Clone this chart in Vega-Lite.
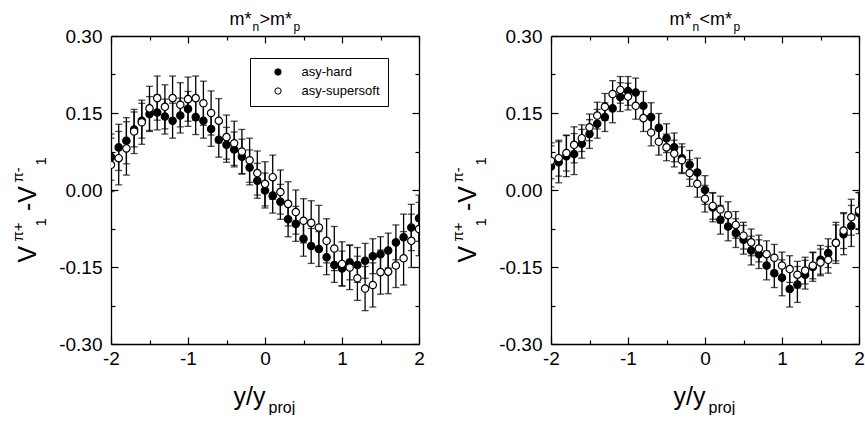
{
  "$schema": "https://vega.github.io/schema/vega-lite/v6.json",
  "background": "white",
  "padding": {"left": 10, "top": 10, "right": 0, "bottom": 0},
  "bounds": "flush",
  "spacing": 132,
  "resolve": {"scale": {"fill": "independent"}, "legend": {"fill": "independent"}},
  "datasets": {
    "left": [
      {"s":"asy-hard","x":-2.0,"y":0.064,"lo":0.019,"hi":0.109},
      {"s":"asy-hard","x":-1.9,"y":0.083,"lo":0.038,"hi":0.128},
      {"s":"asy-hard","x":-1.8,"y":0.096,"lo":0.051,"hi":0.141},
      {"s":"asy-hard","x":-1.7,"y":0.118,"lo":0.084,"hi":0.152},
      {"s":"asy-hard","x":-1.6,"y":0.135,"lo":0.101,"hi":0.169},
      {"s":"asy-hard","x":-1.5,"y":0.148,"lo":0.114,"hi":0.182},
      {"s":"asy-hard","x":-1.4,"y":0.151,"lo":0.117,"hi":0.185},
      {"s":"asy-hard","x":-1.3,"y":0.143,"lo":0.109,"hi":0.177},
      {"s":"asy-hard","x":-1.2,"y":0.135,"lo":0.101,"hi":0.169},
      {"s":"asy-hard","x":-1.1,"y":0.145,"lo":0.111,"hi":0.179},
      {"s":"asy-hard","x":-1.0,"y":0.158,"lo":0.124,"hi":0.192},
      {"s":"asy-hard","x":-0.9,"y":0.142,"lo":0.108,"hi":0.176},
      {"s":"asy-hard","x":-0.8,"y":0.135,"lo":0.101,"hi":0.169},
      {"s":"asy-hard","x":-0.7,"y":0.119,"lo":0.085,"hi":0.153},
      {"s":"asy-hard","x":-0.6,"y":0.098,"lo":0.064,"hi":0.132},
      {"s":"asy-hard","x":-0.5,"y":0.088,"lo":0.054,"hi":0.122},
      {"s":"asy-hard","x":-0.4,"y":0.079,"lo":0.045,"hi":0.113},
      {"s":"asy-hard","x":-0.3,"y":0.065,"lo":0.031,"hi":0.099},
      {"s":"asy-hard","x":-0.2,"y":0.044,"lo":0.010,"hi":0.078},
      {"s":"asy-hard","x":-0.1,"y":0.018,"lo":-0.016,"hi":0.052},
      {"s":"asy-hard","x":0.0,"y":-0.001,"lo":-0.035,"hi":0.033},
      {"s":"asy-hard","x":0.1,"y":-0.011,"lo":-0.045,"hi":0.023},
      {"s":"asy-hard","x":0.2,"y":-0.023,"lo":-0.057,"hi":0.011},
      {"s":"asy-hard","x":0.3,"y":-0.057,"lo":-0.091,"hi":-0.023},
      {"s":"asy-hard","x":0.4,"y":-0.066,"lo":-0.100,"hi":-0.032},
      {"s":"asy-hard","x":0.5,"y":-0.095,"lo":-0.129,"hi":-0.061},
      {"s":"asy-hard","x":0.6,"y":-0.109,"lo":-0.143,"hi":-0.075},
      {"s":"asy-hard","x":0.7,"y":-0.115,"lo":-0.149,"hi":-0.081},
      {"s":"asy-hard","x":0.8,"y":-0.131,"lo":-0.165,"hi":-0.097},
      {"s":"asy-hard","x":0.9,"y":-0.146,"lo":-0.180,"hi":-0.112},
      {"s":"asy-hard","x":1.0,"y":-0.153,"lo":-0.187,"hi":-0.119},
      {"s":"asy-hard","x":1.1,"y":-0.141,"lo":-0.175,"hi":-0.107},
      {"s":"asy-hard","x":1.2,"y":-0.146,"lo":-0.180,"hi":-0.112},
      {"s":"asy-hard","x":1.3,"y":-0.138,"lo":-0.172,"hi":-0.104},
      {"s":"asy-hard","x":1.4,"y":-0.129,"lo":-0.163,"hi":-0.095},
      {"s":"asy-hard","x":1.5,"y":-0.125,"lo":-0.159,"hi":-0.091},
      {"s":"asy-hard","x":1.6,"y":-0.118,"lo":-0.152,"hi":-0.084},
      {"s":"asy-hard","x":1.7,"y":-0.102,"lo":-0.136,"hi":-0.068},
      {"s":"asy-hard","x":1.8,"y":-0.092,"lo":-0.137,"hi":-0.047},
      {"s":"asy-hard","x":1.9,"y":-0.073,"lo":-0.118,"hi":-0.028},
      {"s":"asy-hard","x":2.0,"y":-0.055,"lo":-0.100,"hi":-0.010},
      {"s":"asy-supersoft","x":-2.0,"y":0.049,"lo":-0.003,"hi":0.101},
      {"s":"asy-supersoft","x":-1.9,"y":0.062,"lo":0.010,"hi":0.114},
      {"s":"asy-supersoft","x":-1.8,"y":0.081,"lo":0.029,"hi":0.133},
      {"s":"asy-supersoft","x":-1.7,"y":0.114,"lo":0.071,"hi":0.157},
      {"s":"asy-supersoft","x":-1.6,"y":0.132,"lo":0.089,"hi":0.175},
      {"s":"asy-supersoft","x":-1.5,"y":0.159,"lo":0.116,"hi":0.202},
      {"s":"asy-supersoft","x":-1.4,"y":0.179,"lo":0.136,"hi":0.222},
      {"s":"asy-supersoft","x":-1.3,"y":0.162,"lo":0.119,"hi":0.205},
      {"s":"asy-supersoft","x":-1.2,"y":0.179,"lo":0.136,"hi":0.222},
      {"s":"asy-supersoft","x":-1.1,"y":0.166,"lo":0.123,"hi":0.209},
      {"s":"asy-supersoft","x":-1.0,"y":0.177,"lo":0.134,"hi":0.220},
      {"s":"asy-supersoft","x":-0.9,"y":0.179,"lo":0.136,"hi":0.222},
      {"s":"asy-supersoft","x":-0.8,"y":0.169,"lo":0.126,"hi":0.212},
      {"s":"asy-supersoft","x":-0.7,"y":0.150,"lo":0.107,"hi":0.193},
      {"s":"asy-supersoft","x":-0.6,"y":0.135,"lo":0.092,"hi":0.178},
      {"s":"asy-supersoft","x":-0.5,"y":0.103,"lo":0.060,"hi":0.146},
      {"s":"asy-supersoft","x":-0.4,"y":0.091,"lo":0.048,"hi":0.134},
      {"s":"asy-supersoft","x":-0.3,"y":0.075,"lo":0.032,"hi":0.118},
      {"s":"asy-supersoft","x":-0.2,"y":0.058,"lo":0.015,"hi":0.101},
      {"s":"asy-supersoft","x":-0.1,"y":0.033,"lo":-0.010,"hi":0.076},
      {"s":"asy-supersoft","x":0.0,"y":0.012,"lo":-0.031,"hi":0.055},
      {"s":"asy-supersoft","x":0.1,"y":0.025,"lo":-0.018,"hi":0.068},
      {"s":"asy-supersoft","x":0.2,"y":-0.004,"lo":-0.047,"hi":0.039},
      {"s":"asy-supersoft","x":0.3,"y":-0.027,"lo":-0.070,"hi":0.016},
      {"s":"asy-supersoft","x":0.4,"y":-0.043,"lo":-0.086,"hi":0.000},
      {"s":"asy-supersoft","x":0.5,"y":-0.060,"lo":-0.103,"hi":-0.017},
      {"s":"asy-supersoft","x":0.6,"y":-0.064,"lo":-0.107,"hi":-0.021},
      {"s":"asy-supersoft","x":0.7,"y":-0.073,"lo":-0.116,"hi":-0.030},
      {"s":"asy-supersoft","x":0.8,"y":-0.099,"lo":-0.142,"hi":-0.056},
      {"s":"asy-supersoft","x":0.9,"y":-0.114,"lo":-0.157,"hi":-0.071},
      {"s":"asy-supersoft","x":1.0,"y":-0.144,"lo":-0.187,"hi":-0.101},
      {"s":"asy-supersoft","x":1.1,"y":-0.151,"lo":-0.194,"hi":-0.108},
      {"s":"asy-supersoft","x":1.2,"y":-0.172,"lo":-0.215,"hi":-0.129},
      {"s":"asy-supersoft","x":1.3,"y":-0.192,"lo":-0.235,"hi":-0.149},
      {"s":"asy-supersoft","x":1.4,"y":-0.185,"lo":-0.228,"hi":-0.142},
      {"s":"asy-supersoft","x":1.5,"y":-0.160,"lo":-0.203,"hi":-0.117},
      {"s":"asy-supersoft","x":1.6,"y":-0.159,"lo":-0.202,"hi":-0.116},
      {"s":"asy-supersoft","x":1.7,"y":-0.147,"lo":-0.190,"hi":-0.104},
      {"s":"asy-supersoft","x":1.8,"y":-0.133,"lo":-0.185,"hi":-0.081},
      {"s":"asy-supersoft","x":1.9,"y":-0.099,"lo":-0.151,"hi":-0.047},
      {"s":"asy-supersoft","x":2.0,"y":-0.076,"lo":-0.128,"hi":-0.024}
    ],
    "right": [
      {"s":"asy-hard","x":-2.0,"y":0.046,"lo":0.006,"hi":0.086},
      {"s":"asy-hard","x":-1.9,"y":0.054,"lo":0.014,"hi":0.094},
      {"s":"asy-hard","x":-1.8,"y":0.066,"lo":0.026,"hi":0.106},
      {"s":"asy-hard","x":-1.7,"y":0.070,"lo":0.030,"hi":0.110},
      {"s":"asy-hard","x":-1.6,"y":0.090,"lo":0.062,"hi":0.118},
      {"s":"asy-hard","x":-1.5,"y":0.109,"lo":0.081,"hi":0.137},
      {"s":"asy-hard","x":-1.4,"y":0.129,"lo":0.101,"hi":0.157},
      {"s":"asy-hard","x":-1.3,"y":0.142,"lo":0.114,"hi":0.170},
      {"s":"asy-hard","x":-1.2,"y":0.159,"lo":0.131,"hi":0.187},
      {"s":"asy-hard","x":-1.1,"y":0.181,"lo":0.153,"hi":0.209},
      {"s":"asy-hard","x":-1.0,"y":0.193,"lo":0.165,"hi":0.221},
      {"s":"asy-hard","x":-0.9,"y":0.190,"lo":0.162,"hi":0.218},
      {"s":"asy-hard","x":-0.8,"y":0.164,"lo":0.136,"hi":0.192},
      {"s":"asy-hard","x":-0.7,"y":0.142,"lo":0.114,"hi":0.170},
      {"s":"asy-hard","x":-0.6,"y":0.121,"lo":0.093,"hi":0.149},
      {"s":"asy-hard","x":-0.5,"y":0.101,"lo":0.073,"hi":0.129},
      {"s":"asy-hard","x":-0.4,"y":0.083,"lo":0.055,"hi":0.111},
      {"s":"asy-hard","x":-0.3,"y":0.062,"lo":0.034,"hi":0.090},
      {"s":"asy-hard","x":-0.2,"y":0.049,"lo":0.021,"hi":0.077},
      {"s":"asy-hard","x":-0.1,"y":0.034,"lo":0.006,"hi":0.062},
      {"s":"asy-hard","x":0.0,"y":0.000,"lo":-0.028,"hi":0.028},
      {"s":"asy-hard","x":0.1,"y":-0.034,"lo":-0.062,"hi":-0.006},
      {"s":"asy-hard","x":0.2,"y":-0.058,"lo":-0.086,"hi":-0.030},
      {"s":"asy-hard","x":0.3,"y":-0.071,"lo":-0.099,"hi":-0.043},
      {"s":"asy-hard","x":0.4,"y":-0.084,"lo":-0.112,"hi":-0.056},
      {"s":"asy-hard","x":0.5,"y":-0.097,"lo":-0.125,"hi":-0.069},
      {"s":"asy-hard","x":0.6,"y":-0.118,"lo":-0.146,"hi":-0.090},
      {"s":"asy-hard","x":0.7,"y":-0.125,"lo":-0.153,"hi":-0.097},
      {"s":"asy-hard","x":0.8,"y":-0.147,"lo":-0.175,"hi":-0.119},
      {"s":"asy-hard","x":0.9,"y":-0.162,"lo":-0.190,"hi":-0.134},
      {"s":"asy-hard","x":1.0,"y":-0.171,"lo":-0.206,"hi":-0.136},
      {"s":"asy-hard","x":1.1,"y":-0.193,"lo":-0.228,"hi":-0.158},
      {"s":"asy-hard","x":1.2,"y":-0.184,"lo":-0.219,"hi":-0.149},
      {"s":"asy-hard","x":1.3,"y":-0.165,"lo":-0.193,"hi":-0.137},
      {"s":"asy-hard","x":1.4,"y":-0.150,"lo":-0.178,"hi":-0.122},
      {"s":"asy-hard","x":1.5,"y":-0.136,"lo":-0.164,"hi":-0.108},
      {"s":"asy-hard","x":1.6,"y":-0.123,"lo":-0.151,"hi":-0.095},
      {"s":"asy-hard","x":1.7,"y":-0.103,"lo":-0.143,"hi":-0.063},
      {"s":"asy-hard","x":1.8,"y":-0.086,"lo":-0.126,"hi":-0.046},
      {"s":"asy-hard","x":1.9,"y":-0.070,"lo":-0.110,"hi":-0.030},
      {"s":"asy-hard","x":2.0,"y":-0.045,"lo":-0.085,"hi":-0.005},
      {"s":"asy-supersoft","x":-2.0,"y":0.057,"lo":0.022,"hi":0.092},
      {"s":"asy-supersoft","x":-1.9,"y":0.062,"lo":0.027,"hi":0.097},
      {"s":"asy-supersoft","x":-1.8,"y":0.072,"lo":0.037,"hi":0.107},
      {"s":"asy-supersoft","x":-1.7,"y":0.088,"lo":0.053,"hi":0.123},
      {"s":"asy-supersoft","x":-1.6,"y":0.101,"lo":0.075,"hi":0.127},
      {"s":"asy-supersoft","x":-1.5,"y":0.122,"lo":0.096,"hi":0.148},
      {"s":"asy-supersoft","x":-1.4,"y":0.145,"lo":0.119,"hi":0.171},
      {"s":"asy-supersoft","x":-1.3,"y":0.162,"lo":0.136,"hi":0.188},
      {"s":"asy-supersoft","x":-1.2,"y":0.187,"lo":0.161,"hi":0.213},
      {"s":"asy-supersoft","x":-1.1,"y":0.195,"lo":0.169,"hi":0.221},
      {"s":"asy-supersoft","x":-1.0,"y":0.182,"lo":0.156,"hi":0.208},
      {"s":"asy-supersoft","x":-0.9,"y":0.164,"lo":0.138,"hi":0.190},
      {"s":"asy-supersoft","x":-0.8,"y":0.140,"lo":0.114,"hi":0.166},
      {"s":"asy-supersoft","x":-0.7,"y":0.112,"lo":0.086,"hi":0.138},
      {"s":"asy-supersoft","x":-0.6,"y":0.094,"lo":0.068,"hi":0.120},
      {"s":"asy-supersoft","x":-0.5,"y":0.083,"lo":0.057,"hi":0.109},
      {"s":"asy-supersoft","x":-0.4,"y":0.071,"lo":0.045,"hi":0.097},
      {"s":"asy-supersoft","x":-0.3,"y":0.058,"lo":0.032,"hi":0.084},
      {"s":"asy-supersoft","x":-0.2,"y":0.033,"lo":0.007,"hi":0.059},
      {"s":"asy-supersoft","x":-0.1,"y":0.012,"lo":-0.014,"hi":0.038},
      {"s":"asy-supersoft","x":0.0,"y":-0.017,"lo":-0.043,"hi":0.009},
      {"s":"asy-supersoft","x":0.1,"y":-0.031,"lo":-0.057,"hi":-0.005},
      {"s":"asy-supersoft","x":0.2,"y":-0.038,"lo":-0.064,"hi":-0.012},
      {"s":"asy-supersoft","x":0.3,"y":-0.049,"lo":-0.075,"hi":-0.023},
      {"s":"asy-supersoft","x":0.4,"y":-0.068,"lo":-0.094,"hi":-0.042},
      {"s":"asy-supersoft","x":0.5,"y":-0.089,"lo":-0.115,"hi":-0.063},
      {"s":"asy-supersoft","x":0.6,"y":-0.102,"lo":-0.128,"hi":-0.076},
      {"s":"asy-supersoft","x":0.7,"y":-0.114,"lo":-0.140,"hi":-0.088},
      {"s":"asy-supersoft","x":0.8,"y":-0.125,"lo":-0.151,"hi":-0.099},
      {"s":"asy-supersoft","x":0.9,"y":-0.132,"lo":-0.158,"hi":-0.106},
      {"s":"asy-supersoft","x":1.0,"y":-0.147,"lo":-0.173,"hi":-0.121},
      {"s":"asy-supersoft","x":1.1,"y":-0.154,"lo":-0.180,"hi":-0.128},
      {"s":"asy-supersoft","x":1.2,"y":-0.165,"lo":-0.191,"hi":-0.139},
      {"s":"asy-supersoft","x":1.3,"y":-0.157,"lo":-0.183,"hi":-0.131},
      {"s":"asy-supersoft","x":1.4,"y":-0.147,"lo":-0.173,"hi":-0.121},
      {"s":"asy-supersoft","x":1.5,"y":-0.141,"lo":-0.167,"hi":-0.115},
      {"s":"asy-supersoft","x":1.6,"y":-0.136,"lo":-0.162,"hi":-0.110},
      {"s":"asy-supersoft","x":1.7,"y":-0.103,"lo":-0.138,"hi":-0.068},
      {"s":"asy-supersoft","x":1.8,"y":-0.079,"lo":-0.114,"hi":-0.044},
      {"s":"asy-supersoft","x":1.9,"y":-0.053,"lo":-0.088,"hi":-0.018},
      {"s":"asy-supersoft","x":2.0,"y":-0.040,"lo":-0.075,"hi":-0.005}
    ]
  },
  "hconcat": [
    {
      "width": 308, "height": 308,
      "data": {"name": "left"},
      "resolve": {"axis": {"x": "independent", "y": "independent"}},
      "layer": [
        {
          "transform": [{"filter": "datum.s === 'asy-hard'"}],
          "mark": {"type": "rule", "color": "black", "strokeWidth": 1.3, "clip": true},
          "encoding": {
            "x": {"field": "x", "type": "quantitative", "scale": {"domain": [-2, 2], "nice": false, "zero": false},
              "axis": {"orient": "bottom", "values": [-2, -1, 0, 1, 2], "tickSize": -7, "labelPadding": 12, "labelFlush": false,
                "labelExpr": "datum.value < 0 ? '-' + format(-datum.value, 'd') : format(datum.value, 'd')",
                "title": "y/y", "titleX": 122, "titleY": 60, "titleAlign": "left", "titleBaseline": "alphabetic", "titleAngle": 0, "titleFontSize": 25}},
            "y": {"field": "lo", "type": "quantitative", "scale": {"domain": [-0.3, 0.3], "nice": false, "zero": false},
              "axis": {"orient": "left", "values": [-0.3, -0.15, 0, 0.15, 0.3], "tickSize": -7, "labelPadding": 16, "labelFlush": false,
                "labelExpr": "datum.value < 0 ? '-' + format(-datum.value, '.2f') : format(datum.value, '.2f')",
                "title": "V\u00a0\u00a0\u00a0\u00a0\u00a0-V", "titleX": -76, "titleY": 226, "titleAlign": "left", "titleBaseline": "alphabetic", "titleAngle": -90, "titleFontSize": 25}},
            "y2": {"field": "hi"}
          }
        },
        {
          "transform": [{"filter": "datum.s === 'asy-supersoft'"}],
          "mark": {"type": "rule", "color": "black", "strokeWidth": 1.3, "clip": true},
          "encoding": {
            "x": {"field": "x", "type": "quantitative",
              "axis": {"orient": "top", "ticks": false, "labels": false, "domain": false,
                "title": "m*", "titleX": 118, "titleY": -12, "titleAlign": "left", "titleBaseline": "alphabetic", "titleAngle": 0, "titleFontSize": 18}},
            "y": {"field": "lo", "type": "quantitative",
              "axis": {"orient": "left", "ticks": false, "labels": false, "domain": false,
                "title": "1", "titleX": -66, "titleY": 129, "titleAlign": "left", "titleBaseline": "alphabetic", "titleAngle": -90, "titleFontSize": 15}},
            "y2": {"field": "hi"}
          }
        },
        {
          "mark": {"type": "tick", "orient": "horizontal", "color": "black", "size": 7, "thickness": 1.3, "clip": true},
          "encoding": {
            "x": {"field": "x", "type": "quantitative",
              "axis": {"orient": "bottom", "values": [-1.5, -0.5, 0.5, 1.5], "tickSize": -4, "labels": false, "domain": false,
                "title": "proj", "titleX": 157, "titleY": 68, "titleAlign": "left", "titleBaseline": "alphabetic", "titleAngle": 0, "titleFontSize": 16}},
            "y": {"field": "lo", "type": "quantitative",
              "axis": {"orient": "left", "values": [-0.225, -0.075, 0.075, 0.225], "tickSize": -4, "labels": false, "domain": false,
                "title": "π+", "titleX": -89, "titleY": 205, "titleAlign": "left", "titleBaseline": "alphabetic", "titleAngle": -90, "titleFontSize": 15}}
          }
        },
        {
          "mark": {"type": "tick", "orient": "horizontal", "color": "black", "size": 7, "thickness": 1.3, "clip": true},
          "encoding": {
            "x": {"field": "x", "type": "quantitative",
              "axis": {"orient": "top", "values": [-2, -1, 0, 1, 2], "tickSize": -7, "labels": false,
                "title": ">m*", "titleX": 148, "titleY": -12, "titleAlign": "left", "titleBaseline": "alphabetic", "titleAngle": 0, "titleFontSize": 18}},
            "y": {"field": "hi", "type": "quantitative",
              "axis": {"orient": "right", "values": [-0.3, -0.15, 0, 0.15, 0.3], "tickSize": -7, "labels": false,
                "title": "1", "titleX": -374, "titleY": 190, "titleAlign": "left", "titleBaseline": "alphabetic", "titleAngle": -90, "titleFontSize": 15}}
          }
        },
        {
          "transform": [{"filter": "datum.s === 'asy-hard'"}],
          "mark": {"type": "point", "shape": "circle", "filled": true, "size": 54, "stroke": "black", "strokeWidth": 1.2, "opacity": 1, "clip": true},
          "encoding": {
            "x": {"field": "x", "type": "quantitative",
              "axis": {"orient": "top", "values": [-1.5, -0.5, 0.5, 1.5], "tickSize": -4, "labels": false, "domain": false,
                "title": "n", "titleX": 141, "titleY": -6, "titleAlign": "left", "titleBaseline": "alphabetic", "titleAngle": 0, "titleFontSize": 12}},
            "y": {"field": "y", "type": "quantitative",
              "axis": {"orient": "right", "values": [-0.225, -0.075, 0.075, 0.225], "tickSize": -4, "labels": false, "domain": false,
                "title": "π-", "titleX": -397, "titleY": 146, "titleAlign": "left", "titleBaseline": "alphabetic", "titleAngle": -90, "titleFontSize": 15}},
            "fill": {"field": "s", "type": "nominal", "scale": {"domain": ["asy-hard", "asy-supersoft"], "range": ["black", "white"]},
              "legend": {"title": null, "orient": "none", "legendX": 139, "legendY": 22, "strokeColor": "black", "fillColor": "white",
                "padding": 7.5, "rowPadding": 5, "symbolType": "circle", "symbolSize": 40, "symbolStrokeColor": "black", "symbolStrokeWidth": 1,
                "symbolOffset": 14, "labelOffset": 17, "labelFontSize": 13, "labelFont": "Liberation Sans", "labelColor": "black"}}
          }
        },
        {
          "transform": [{"filter": "datum.s === 'asy-supersoft'"}],
          "mark": {"type": "point", "shape": "circle", "filled": true, "size": 54, "stroke": "black", "strokeWidth": 1.2, "opacity": 1, "clip": true},
          "encoding": {
            "x": {"field": "x", "type": "quantitative",
              "axis": {"orient": "top", "ticks": false, "labels": false, "domain": false,
                "title": "p", "titleX": 182, "titleY": -6, "titleAlign": "left", "titleBaseline": "alphabetic", "titleAngle": 0, "titleFontSize": 12}},
            "y": {"field": "y", "type": "quantitative", "axis": null},
            "fill": {"field": "s", "type": "nominal", "scale": {"domain": ["asy-hard", "asy-supersoft"], "range": ["black", "white"]},
              "legend": {"title": null, "orient": "none", "legendX": 139, "legendY": 22, "strokeColor": "black", "fillColor": "white",
                "padding": 7.5, "rowPadding": 5, "symbolType": "circle", "symbolSize": 40, "symbolStrokeColor": "black", "symbolStrokeWidth": 1,
                "symbolOffset": 14, "labelOffset": 17, "labelFontSize": 13, "labelFont": "Liberation Sans", "labelColor": "black"}}
          }
        }
      ]
    },
    {
      "width": 308, "height": 308,
      "data": {"name": "right"},
      "resolve": {"axis": {"x": "independent", "y": "independent"}},
      "layer": [
        {
          "transform": [{"filter": "datum.s === 'asy-hard'"}],
          "mark": {"type": "rule", "color": "black", "strokeWidth": 1.3, "clip": true},
          "encoding": {
            "x": {"field": "x", "type": "quantitative", "scale": {"domain": [-2, 2], "nice": false, "zero": false},
              "axis": {"orient": "bottom", "values": [-2, -1, 0, 1, 2], "tickSize": -7, "labelPadding": 12, "labelFlush": false,
                "labelExpr": "datum.value < 0 ? '-' + format(-datum.value, 'd') : format(datum.value, 'd')",
                "title": "y/y", "titleX": 122, "titleY": 60, "titleAlign": "left", "titleBaseline": "alphabetic", "titleAngle": 0, "titleFontSize": 25}},
            "y": {"field": "lo", "type": "quantitative", "scale": {"domain": [-0.3, 0.3], "nice": false, "zero": false},
              "axis": {"orient": "left", "values": [-0.3, -0.15, 0, 0.15, 0.3], "tickSize": -7, "labelPadding": 16, "labelFlush": false,
                "labelExpr": "datum.value < 0 ? '-' + format(-datum.value, '.2f') : format(datum.value, '.2f')",
                "title": "V\u00a0\u00a0\u00a0\u00a0\u00a0-V", "titleX": -76, "titleY": 226, "titleAlign": "left", "titleBaseline": "alphabetic", "titleAngle": -90, "titleFontSize": 25}},
            "y2": {"field": "hi"}
          }
        },
        {
          "transform": [{"filter": "datum.s === 'asy-supersoft'"}],
          "mark": {"type": "rule", "color": "black", "strokeWidth": 1.3, "clip": true},
          "encoding": {
            "x": {"field": "x", "type": "quantitative",
              "axis": {"orient": "top", "ticks": false, "labels": false, "domain": false,
                "title": "m*", "titleX": 118, "titleY": -12, "titleAlign": "left", "titleBaseline": "alphabetic", "titleAngle": 0, "titleFontSize": 18}},
            "y": {"field": "lo", "type": "quantitative",
              "axis": {"orient": "left", "ticks": false, "labels": false, "domain": false,
                "title": "1", "titleX": -66, "titleY": 129, "titleAlign": "left", "titleBaseline": "alphabetic", "titleAngle": -90, "titleFontSize": 15}},
            "y2": {"field": "hi"}
          }
        },
        {
          "mark": {"type": "tick", "orient": "horizontal", "color": "black", "size": 7, "thickness": 1.3, "clip": true},
          "encoding": {
            "x": {"field": "x", "type": "quantitative",
              "axis": {"orient": "bottom", "values": [-1.5, -0.5, 0.5, 1.5], "tickSize": -4, "labels": false, "domain": false,
                "title": "proj", "titleX": 157, "titleY": 68, "titleAlign": "left", "titleBaseline": "alphabetic", "titleAngle": 0, "titleFontSize": 16}},
            "y": {"field": "lo", "type": "quantitative",
              "axis": {"orient": "left", "values": [-0.225, -0.075, 0.075, 0.225], "tickSize": -4, "labels": false, "domain": false,
                "title": "π+", "titleX": -89, "titleY": 205, "titleAlign": "left", "titleBaseline": "alphabetic", "titleAngle": -90, "titleFontSize": 15}}
          }
        },
        {
          "mark": {"type": "tick", "orient": "horizontal", "color": "black", "size": 7, "thickness": 1.3, "clip": true},
          "encoding": {
            "x": {"field": "x", "type": "quantitative",
              "axis": {"orient": "top", "values": [-2, -1, 0, 1, 2], "tickSize": -7, "labels": false,
                "title": "<m*", "titleX": 148, "titleY": -12, "titleAlign": "left", "titleBaseline": "alphabetic", "titleAngle": 0, "titleFontSize": 18}},
            "y": {"field": "hi", "type": "quantitative",
              "axis": {"orient": "right", "values": [-0.3, -0.15, 0, 0.15, 0.3], "tickSize": -7, "labels": false,
                "title": "1", "titleX": -374, "titleY": 190, "titleAlign": "left", "titleBaseline": "alphabetic", "titleAngle": -90, "titleFontSize": 15}}
          }
        },
        {
          "transform": [{"filter": "datum.s === 'asy-hard'"}],
          "mark": {"type": "point", "shape": "circle", "filled": true, "size": 54, "stroke": "black", "strokeWidth": 1.2, "opacity": 1, "clip": true},
          "encoding": {
            "x": {"field": "x", "type": "quantitative",
              "axis": {"orient": "top", "values": [-1.5, -0.5, 0.5, 1.5], "tickSize": -4, "labels": false, "domain": false,
                "title": "n", "titleX": 141, "titleY": -6, "titleAlign": "left", "titleBaseline": "alphabetic", "titleAngle": 0, "titleFontSize": 12}},
            "y": {"field": "y", "type": "quantitative",
              "axis": {"orient": "right", "values": [-0.225, -0.075, 0.075, 0.225], "tickSize": -4, "labels": false, "domain": false,
                "title": "π-", "titleX": -397, "titleY": 146, "titleAlign": "left", "titleBaseline": "alphabetic", "titleAngle": -90, "titleFontSize": 15}},
            "fill": {"field": "s", "type": "nominal", "scale": {"domain": ["asy-hard", "asy-supersoft"], "range": ["black", "white"]}, "legend": null}
          }
        },
        {
          "transform": [{"filter": "datum.s === 'asy-supersoft'"}],
          "mark": {"type": "point", "shape": "circle", "filled": true, "size": 54, "stroke": "black", "strokeWidth": 1.2, "opacity": 1, "clip": true},
          "encoding": {
            "x": {"field": "x", "type": "quantitative",
              "axis": {"orient": "top", "ticks": false, "labels": false, "domain": false,
                "title": "p", "titleX": 182, "titleY": -6, "titleAlign": "left", "titleBaseline": "alphabetic", "titleAngle": 0, "titleFontSize": 12}},
            "y": {"field": "y", "type": "quantitative", "axis": null},
            "fill": {"field": "s", "type": "nominal", "scale": {"domain": ["asy-hard", "asy-supersoft"], "range": ["black", "white"]}, "legend": null}
          }
        }
      ]
    }
  ],
  "config": {
    "font": "Liberation Sans",
    "view": {"stroke": null},
    "legend": {"strokeWidth": 1},
    "axis": {
      "grid": false,
      "labelFont": "Liberation Sans", "labelFontSize": 19, "labelColor": "black", "labelOverlap": false,
      "titleFont": "Liberation Sans", "titleFontWeight": "normal", "titleColor": "black",
      "domainColor": "black", "domainWidth": 1.3, "tickColor": "black", "tickWidth": 1.2
    }
  }
}
